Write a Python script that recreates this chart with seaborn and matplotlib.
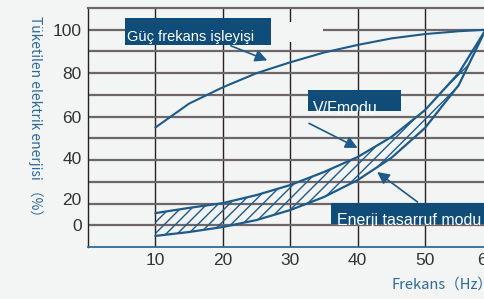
import matplotlib
matplotlib.use("Agg")
import matplotlib.pyplot as plt
from matplotlib.patches import Rectangle
from matplotlib.transforms import ScaledTranslation
import seaborn as sns

# Data
freq = [10, 15, 20, 25, 30, 35, 40, 45, 50, 55, 59]
power_freq = [55, 66, 73.5, 80, 85, 89.5, 93, 96, 98, 99.3, 100]
saving_upper = [15.6, 18.0, 20.2, 23.9, 28.5, 34.5, 41.4, 50.6, 63.0, 80.0, 100]
saving_lower = [5.1, 6.9, 9.2, 12.4, 17.0, 23.0, 30.8, 41.0, 54.8, 74.5, 100]

x_ticks = [10, 20, 30, 40, 50, 60]
y_tick_pos = [100, 80, 60, 41, 22, 10]
y_tick_labels = ["100", "80", "60", "40", "20", "0"]

bg = "#f3f4f4"
blue = "#1d5b8a"
box_blue = "#0f4c78"
label_blue = "#2e6a98"

sns.set_theme(style="white")
plt.rcParams["font.family"] = ["Liberation Sans", "DejaVu Sans"]
plt.rcParams["hatch.linewidth"] = 1.0
plt.rcParams["hatch.color"] = blue

fig = plt.figure(figsize=(4.85, 2.99), dpi=100, facecolor=bg)
ax = fig.add_axes([88 / 485, 52 / 299, 60.5 * 6.74 / 485, 239 / 299])
ax.set_facecolor(bg)
ax.set_xlim(0, 60.5)
ax.set_ylim(0, 110)

# grid
ax.set_xticks(x_ticks)
ax.set_xticklabels([str(v) for v in x_ticks])
ax.set_yticks(y_tick_pos)
ax.set_yticklabels(y_tick_labels)
ax.grid(False)
for v in x_ticks:
    ax.axvline(v, color="#2a2222", lw=1.0, zorder=1)
for v in range(10, 101, 10):
    ax.axhline(v, color="#6e6767", lw=1.6, zorder=1)
ax.tick_params(axis="both", which="both", length=0, labelsize=12.5,
               colors="#333333", pad=4.5)
# the last label sits a little left of its gridline, as in the reference
last = ax.get_xticklabels()[-1]
last.set_transform(last.get_transform() + ScaledTranslation(-0.06, 0, fig.dpi_scale_trans))

# gap in the grid next to the title box
ax.add_patch(Rectangle((27.1, 94.3), 7.8, 9.2, facecolor=bg, edgecolor="none", zorder=2))

ax.spines["right"].set_visible(False)
ax.spines["left"].set_color("#222222")
ax.spines["left"].set_linewidth(1.0)
ax.spines["top"].set_color("#6e6767")
ax.spines["top"].set_linewidth(1.6)
ax.spines["bottom"].set_color("#2e6a98")
ax.spines["bottom"].set_linewidth(1.3)

# curves
ax.fill_between(freq, saving_lower, saving_upper, facecolor="none",
                edgecolor=blue, hatch="///", linewidth=0, zorder=3)
sns.lineplot(x=freq, y=power_freq, ax=ax, color=blue, lw=1.5, zorder=4)
sns.lineplot(x=freq, y=saving_upper, ax=ax, color=blue, lw=1.6, zorder=4)
sns.lineplot(x=freq, y=saving_lower, ax=ax, color=blue, lw=1.6, zorder=4)

# annotation boxes with clipped text
def label_box(x0, y0, x1, y1, text, tx, ty, size):
    rect = Rectangle((x0, y0), x1 - x0, y1 - y0, facecolor=box_blue,
                     edgecolor="none", zorder=6)
    ax.add_patch(rect)
    t = ax.text(tx, ty, text, color="white", fontsize=size, ha="left",
                va="baseline", zorder=7)
    t.set_clip_path(rect)

label_box(5.55, 93.0, 27.1, 105.4, "Güç frekans işleyişi", 5.8, 95.0, 10.5)
label_box(32.7, 62.6, 46.4, 72.2, "V/Fmodu", 33.3, 61.6, 11.5)
label_box(36.1, 10.6, 62.0, 20.2, "Enerji tasarruf modu", 36.9, 10.2, 11.5)

arrow = dict(arrowstyle="-|>", color=blue, lw=1.2, mutation_scale=18,
             shrinkA=0, shrinkB=0)
ax.annotate("", xy=(26.6, 85.9), xytext=(21.2, 92.6), arrowprops=arrow, zorder=5)
ax.annotate("", xy=(40.0, 45.6), xytext=(32.8, 56.9), arrowprops=arrow, zorder=5)
ax.annotate("", xy=(42.9, 34.5), xytext=(48.9, 20.7), arrowprops=arrow, zorder=5)

# axis titles
cjk = ["Noto Sans CJK SC", "DejaVu Sans"]
fig.text(35 / 485, 1 - 120 / 299, "Tüketilen elektrik enerjisi （%）",
         rotation=-90, ha="center", va="center", color=label_blue,
         fontsize=10, family=cjk)
fig.text(392 / 485, 1 - 285 / 299, "Frekans（Hz）", ha="left", va="center",
         color=label_blue, fontsize=10.5, family=cjk)

fig.savefig("out.png", dpi=100, facecolor=bg)
